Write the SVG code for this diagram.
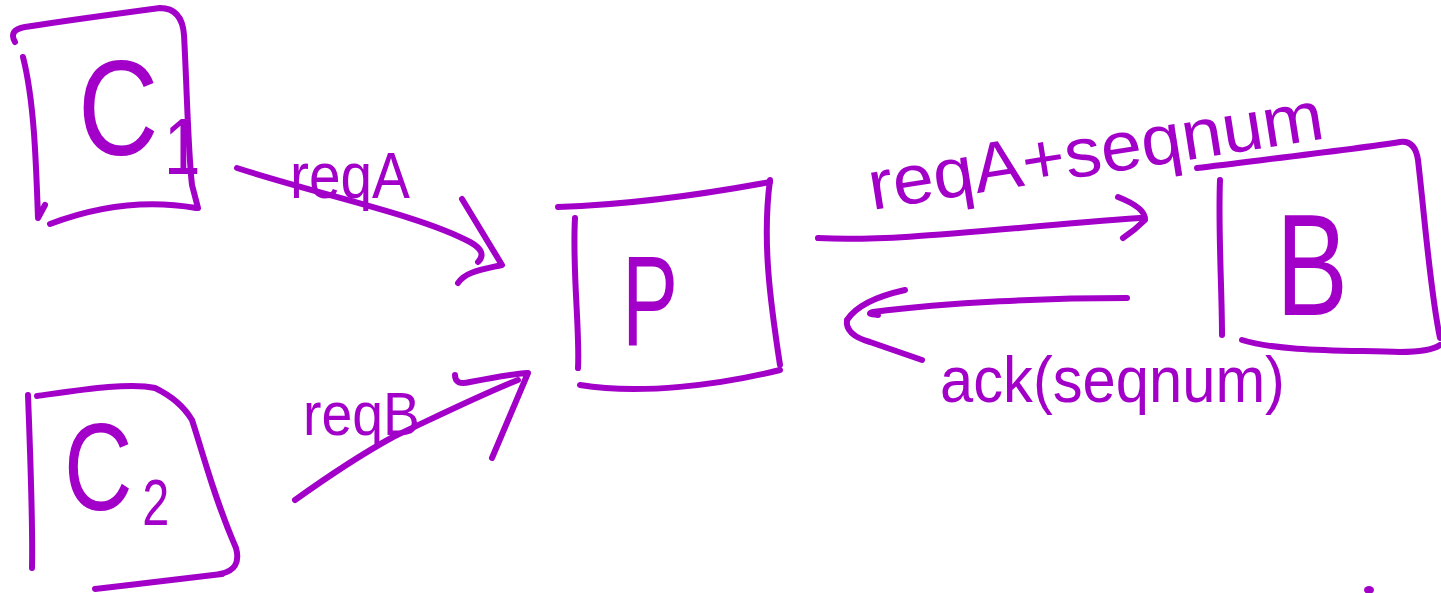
<svg xmlns="http://www.w3.org/2000/svg" width="1441" height="593" viewBox="0 0 1441 593">
<style>
.s{fill:none;stroke:#a200c8;stroke-width:6;stroke-linecap:round;stroke-linejoin:round}
.t{fill:#a200c8;font-family:"Liberation Sans","DejaVu Sans",sans-serif}
</style>
<rect width="1441" height="593" fill="#fff"/>
<g id="C1">
<path class="s" d="M23,57 C34,100 36,160 38,218 L45,205"/>
<path class="s" d="M15,42 Q8,30 25,27 C70,20 130,12 160,8 Q182,8 184,35 C187,90 188,150 192,185 L198,208"/>
<path class="s" d="M50,224 C100,205 150,200 196,208"/>
<text class="t" transform="translate(78,155) scale(0.82,1)" x="0" y="0" font-size="136">C<tspan x="105" y="19" font-size="80">1</tspan></text>
</g>
<g id="C2">
<path class="s" d="M28,395 C30,450 33,520 32,568"/>
<path class="s" d="M37,396 C80,390 130,382 155,388 Q180,400 192,420 C205,460 215,500 236,548 Q242,570 220,574"/>
<path class="s" d="M95,589 C140,584 190,578 222,574"/>
<text class="t" transform="translate(64,510) scale(0.76,1)" x="0" y="0" font-size="125">C<tspan x="103" y="15" font-size="64">2</tspan></text>
</g>
<g id="P">
<path class="s" d="M558,207 C620,205 700,195 770,182"/>
<path class="s" d="M575,218 C572,270 580,330 578,368"/>
<path class="s" d="M770,180 C762,240 770,300 780,365"/>
<path class="s" d="M580,385 C640,395 720,385 780,370"/>
<text class="t" x="622" y="345" font-size="128" textLength="56" lengthAdjust="spacingAndGlyphs">P</text>
</g>
<g id="B">
<path class="s" d="M1197,168 C1260,160 1350,150 1400,142 Q1415,140 1418,160 C1425,220 1430,290 1440,338"/>
<path class="s" d="M1220,180 C1218,230 1222,290 1222,335"/>
<path class="s" d="M1242,340 C1280,352 1350,350 1400,352 Q1430,352 1440,345"/>
<text class="t" x="1276" y="315" font-size="144" textLength="72" lengthAdjust="spacingAndGlyphs">B</text>
</g>
<g id="connectors">
<path class="s" d="M237,168 C320,195 420,215 470,242 Q488,252 478,262"/>
<path class="s" d="M462,199 L502,265 C480,270 465,272 458,283"/>
<path class="s" d="M295,500 C330,475 360,455 393,437 C440,415 480,395 518,380"/>
<path class="s" d="M455,375 Q455,386 470,382 C490,378 510,374 528,373 L492,458"/>
<path class="s" d="M818,238 C900,242 1000,228 1140,218"/>
<path class="s" d="M1118,197 Q1146,208 1145,220 Q1135,230 1123,238"/>
<path class="s" d="M1127,298 C1050,298 950,302 873,312 Q865,314 878,315"/>
<path class="s" d="M905,290 Q860,300 847,320 Q845,335 870,342 L922,360"/>
</g>
<g id="labels">
<text class="t" x="290" y="198" font-size="64" textLength="120" lengthAdjust="spacingAndGlyphs">reqA</text>
<text class="t" x="303" y="435" font-size="62" textLength="117" lengthAdjust="spacingAndGlyphs">reqB</text>
<text class="t" x="872" y="210" font-size="70" textLength="460" lengthAdjust="spacingAndGlyphs" transform="rotate(-9 872 210)">reqA+seqnum</text>
<text class="t" x="940" y="402" font-size="64" textLength="345" lengthAdjust="spacingAndGlyphs">ack(seqnum)</text>
</g>
<ellipse cx="1369" cy="590" rx="5" ry="4" fill="#a200c8"/>
</svg>
